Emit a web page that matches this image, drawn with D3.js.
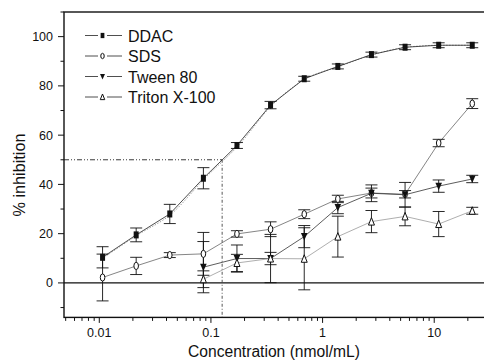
<!DOCTYPE html>
<meta charset="utf-8">
<script src="https://d3js.org/d3.v7.min.js"></script>
<style>
  body { margin: 0; background: #fff; }
  text { font-family: "Liberation Sans", Arial, sans-serif; fill: #111; }
</style>
<div id="chart"></div>
<script>

// data
var conc = [0.0107, 0.0214, 0.0428, 0.0856, 0.171, 0.342, 0.685, 1.37, 2.74, 5.48, 10.96, 21.9];

var ddac     = [10.4, 19.5, 28, 42.5, 55.8, 72.2, 82.9, 87.9, 92.7, 95.7, 96.5, 96.5];
var ddacErr  = [4.3, 2.8, 3.9, 4.3, 1.2, 1.5, 1, 1, 1, 1, 1, 1];
var sds      = [2.2, 6.9, 11.3, 11.8, 19.9, 21.8, 27.9, 34.1, 36.5, 36, 56.8, 72.8];
var sdsErr   = [9.5, 3.5, 1, 8.7, 1.3, 3, 1.8, 1.5, 2, 1.5, 1.5, 2];
var tween    = [null, null, null, 6.4, 9.9, 9.9, 18.8, 30.6, 36.4, 35.8, 39.3, 42.2];
var tweenErr = [null, null, null, 10.4, 5.5, 2.5, 4.5, 2.5, 3.4, 5, 2.5, 1.5];
var triton   = [null, null, null, 1.5, 8.1, 9.9, 9.8, 18.8, 24.9, 27, 23.9, 29.3];
var tritonErr= [null, null, null, 3.4, 3.5, 9.8, 12.6, 8.3, 4.5, 3.8, 5.1, 1.4];

var seriesNames = ["DDAC", "SDS", "Tween 80", "Triton X-100"];
var yTicks = [0, 20, 40, 60, 80, 100];
var xTicks = [0.01, 0.1, 1, 10];
var ic50 = 0.126, halfLevel = 50;

var W = 484, H = 364;
var plotL = 64, plotT = 12, plotB = 317.4, plotR = 487.5;

var svg = d3.select("#chart").append("svg")
  .attr("width", W).attr("height", H);

var x = d3.scaleLog().domain([0.00483, 30]).range([plotL, plotR]);
var y = d3.scaleLinear().domain([-14, 110]).range([plotB, plotT]);

function rows(vals, errs) {
  return conc.map(function(c, i) { return {c: c, v: vals[i], e: errs[i]}; })
    .filter(function(d) { return d.v != null; });
}

var series = [
  {name: seriesNames[0], data: rows(ddac, ddacErr),    sym: "square",  line: "#222"},
  {name: seriesNames[1], data: rows(sds, sdsErr),      sym: "ellipse", line: "#666"},
  {name: seriesNames[2], data: rows(tween, tweenErr),  sym: "down",    line: "#333"},
  {name: seriesNames[3], data: rows(triton, tritonErr),sym: "up",      line: "#999"}
];

// zero line
svg.append("line")
  .attr("x1", plotL).attr("x2", plotR)
  .attr("y1", y(0)).attr("y2", y(0))
  .attr("stroke", "#111").attr("stroke-width", 1.3);

// half-inhibition guides
svg.append("line")
  .attr("x1", plotL).attr("x2", x(ic50))
  .attr("y1", y(halfLevel)).attr("y2", y(halfLevel))
  .attr("stroke", "#222").attr("stroke-width", 0.9)
  .attr("stroke-dasharray", "5,2,1,2,1,2");
svg.append("line")
  .attr("x1", x(ic50)).attr("x2", x(ic50))
  .attr("y1", y(halfLevel)).attr("y2", plotB)
  .attr("stroke", "#444").attr("stroke-width", 0.9)
  .attr("stroke-dasharray", "3,2,1,2");

var line = d3.line()
  .x(function(d) { return x(d.c); })
  .y(function(d) { return y(d.v); });

// dotted fit under DDAC
svg.append("path")
  .datum(series[0].data)
  .attr("d", d3.line().curve(d3.curveMonotoneX)
    .x(function(d) { return x(d.c) + 1.5; })
    .y(function(d) { return y(d.v); }))
  .attr("fill", "none").attr("stroke", "#888")
  .attr("stroke-width", 0.8).attr("stroke-dasharray", "1.5,1.5");

series.forEach(function(s) {
  svg.append("path")
    .datum(s.data)
    .attr("d", line)
    .attr("fill", "none")
    .attr("stroke", s.line)
    .attr("stroke-width", 0.8);
});

// error bars
series.forEach(function(s) {
  var g = svg.append("g").attr("stroke", "#111").attr("stroke-width", 0.9);
  s.data.forEach(function(d) {
    var cx = x(d.c), y1 = y(d.v + d.e), y2 = y(d.v - d.e);
    g.append("line").attr("x1", cx).attr("x2", cx).attr("y1", y1).attr("y2", y2);
    g.append("line").attr("x1", cx - 6).attr("x2", cx + 6).attr("y1", y1).attr("y2", y1);
    g.append("line").attr("x1", cx - 6).attr("x2", cx + 6).attr("y1", y2).attr("y2", y2);
  });
});

function marker(g, sym, cx, cy, k) {
  k = k || 1;
  if (sym == "square") {
    g.append("rect").attr("x", cx - 2.5 * k).attr("y", cy - 3.5 * k)
      .attr("width", 5 * k).attr("height", 7 * k).attr("fill", "#111");
  } else if (sym == "ellipse") {
    g.append("ellipse").attr("cx", cx).attr("cy", cy).attr("rx", 2.3 * k).attr("ry", 3.6 * k)
      .attr("fill", "#fff").attr("stroke", "#111").attr("stroke-width", 1);
  } else if (sym == "down") {
    g.append("path").attr("d", "M" + (cx - 3.3 * k) + "," + (cy - 3.5 * k) + "L" + (cx + 3.3 * k) + "," + (cy - 3.5 * k) + "L" + cx + "," + (cy + 4 * k) + "Z")
      .attr("fill", "#111");
  } else {
    g.append("path").attr("d", "M" + (cx - 3 * k) + "," + (cy + 3.5 * k) + "L" + (cx + 3 * k) + "," + (cy + 3.5 * k) + "L" + cx + "," + (cy - 4 * k) + "Z")
      .attr("fill", "#fff").attr("stroke", "#111").attr("stroke-width", 1);
  }
}

series.forEach(function(s) {
  var g = svg.append("g");
  s.data.forEach(function(d) { marker(g, s.sym, x(d.c), y(d.v)); });
});

// frame
svg.append("rect")
  .attr("x", plotL).attr("y", plotT)
  .attr("width", plotR - plotL).attr("height", plotB - plotT)
  .attr("fill", "none").attr("stroke", "#111").attr("stroke-width", 1.4);

// y axis
var yMinor = d3.range(-10, 111, 10).filter(function(v) { return yTicks.indexOf(v) < 0; });
var yg = svg.append("g").attr("stroke", "#111").attr("stroke-width", 1);
yTicks.forEach(function(v) {
  yg.append("line").attr("x1", plotL - 6).attr("x2", plotL).attr("y1", y(v)).attr("y2", y(v));
});
yMinor.forEach(function(v) {
  yg.append("line").attr("x1", plotL - 3.5).attr("x2", plotL).attr("y1", y(v)).attr("y2", y(v));
});
svg.append("g").selectAll("text").data(yTicks).enter().append("text")
  .attr("x", plotL - 11).attr("y", function(d) { return y(d) + 4.5; })
  .attr("text-anchor", "end").attr("font-size", 12.5)
  .text(function(d) { return d; });

// x axis
var xMinor = [];
[0.001, 0.01, 0.1, 1, 10].forEach(function(dec) {
  d3.range(2, 10).forEach(function(m) {
    var v = dec * m;
    if (v > 0.00483 && v < 30) xMinor.push(v);
  });
});
var xg = svg.append("g").attr("stroke", "#111").attr("stroke-width", 1);
xTicks.forEach(function(v) {
  xg.append("line").attr("x1", x(v)).attr("x2", x(v)).attr("y1", plotB).attr("y2", plotB + 5.5);
});
xMinor.forEach(function(v) {
  xg.append("line").attr("x1", x(v)).attr("x2", x(v)).attr("y1", plotB).attr("y2", plotB + 3.5);
});
svg.append("g").selectAll("text").data(xTicks).enter().append("text")
  .attr("x", function(d) { return x(d); }).attr("y", plotB + 20)
  .attr("text-anchor", "middle").attr("font-size", 12.5)
  .text(function(d) { return d; });

// axis titles
svg.append("text")
  .attr("x", 274).attr("y", 357)
  .attr("text-anchor", "middle").attr("font-size", 16)
  .attr("textLength", 172).attr("lengthAdjust", "spacingAndGlyphs")
  .text("Concentration (nmol/mL)");
svg.append("text")
  .attr("transform", "translate(25,175)rotate(-90)")
  .attr("text-anchor", "middle").attr("font-size", 16)
  .attr("textLength", 83).attr("lengthAdjust", "spacingAndGlyphs")
  .text("% inhibition");

// legend
var lg = svg.append("g");
series.forEach(function(s, i) {
  var ly = 35.5 + i * 20.5;
  lg.append("line").attr("x1", 85).attr("x2", 98).attr("y1", ly).attr("y2", ly)
    .attr("stroke", "#222").attr("stroke-width", 0.8);
  lg.append("line").attr("x1", 107).attr("x2", 122).attr("y1", ly).attr("y2", ly)
    .attr("stroke", "#222").attr("stroke-width", 0.8);
  marker(lg, s.sym, 102.5, ly, 0.75);
  lg.append("text").attr("x", 128).attr("y", ly + 6)
    .attr("font-size", 16).text(s.name);
});

</script>
